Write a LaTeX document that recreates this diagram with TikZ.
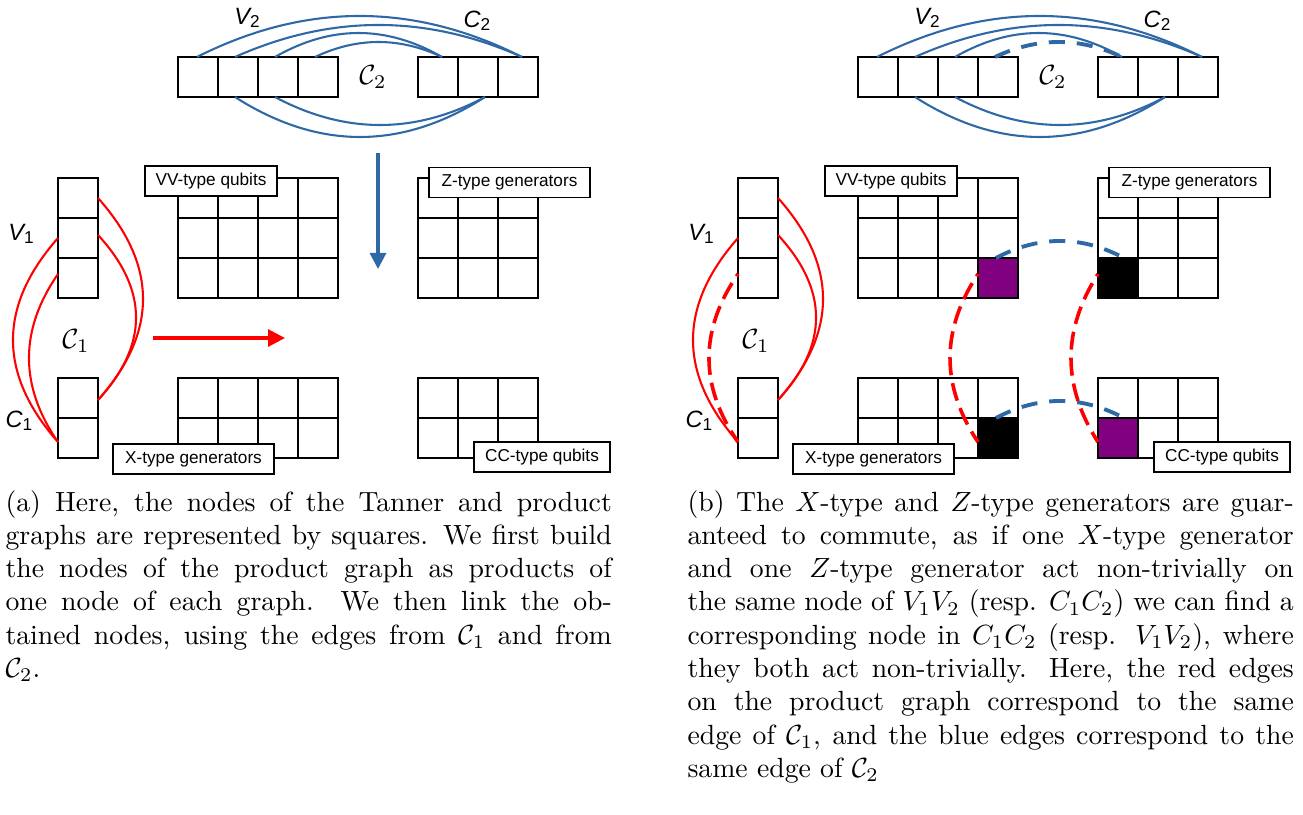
\documentclass[tikz,border=0pt]{standalone}
\usepackage{fontspec}
\newfontfamily\labelfont{Liberation Sans}
\usetikzlibrary{arrows.meta,calc}

\definecolor{edgeblue}{RGB}{47,104,166}
\definecolor{edgered}{RGB}{255,0,0}
\definecolor{nodepurple}{RGB}{128,0,128}

% graph name with an upright subscript, e.g. V_1
\newcommand\setlab[2]{{\labelfont\fontsize{8.5}{9}\selectfont\itshape #1}\raisebox{-1.2pt}{\labelfont\fontsize{6.2}{7}\selectfont #2}}
% code name, e.g. \mathcal{C}_1
\newcommand\calab[2]{{\fontsize{9.6}{10}\selectfont$\mathcal{#1}_{#2}$}}

\tikzset{
  cell/.style={draw=black, line width=0.8pt, minimum size=14.42pt, inner sep=0pt, outer sep=0pt},
  tag/.style={draw=black, fill=white, line width=0.5pt, minimum height=10.8pt, inner sep=0pt,
              font=\labelfont\fontsize{6.2}{7}\selectfont},
  blueline/.style={draw=edgeblue, line width=0.75pt},
  redline/.style={draw=edgered, line width=0.75pt},
  bluedash/.style={draw=edgeblue, line width=1.4pt, dash pattern=on 5.8pt off 4.3pt},
  reddash/.style={draw=edgered, line width=1.3pt, dash pattern=on 6.5pt off 2.9pt, dash phase=5.5pt},
  glabel/.style={inner sep=0pt, anchor=center},
  caption/.style={anchor=base west, inner sep=0pt, text width=218.5pt, align=justify,
                  font=\fontsize{10}{12}\selectfont},
}

% #1 name prefix, #2 horizontal offset, #3 style of the edge t4--s1, #4 style of the edge v3--c2
\newcommand\drawpanel[4]{%
  % Tanner graph of C2
  \foreach \col in {1,...,4} \node[cell] (#1-t-\col) at ({#2+158+40*\col},77) {};
  \foreach \col in {1,...,3} \node[cell] (#1-s-\col) at ({#2+398+40*\col},77) {};
  % Tanner graph of C1
  \foreach \row in {1,...,3} \node[cell] (#1-v-\row) at ({#2+78},{158+40*\row}) {};
  \foreach \row in {1,2} \node[cell] (#1-c-\row) at ({#2+78},{358+40*\row}) {};
  % product graph
  \foreach \row in {1,...,3} \foreach \col in {1,...,4}
    \node[cell] (#1-vv-\row-\col) at ({#2+158+40*\col},{158+40*\row}) {};
  \foreach \row in {1,...,3} \foreach \col in {1,...,3}
    \node[cell] (#1-z-\row-\col) at ({#2+398+40*\col},{158+40*\row}) {};
  \foreach \row in {1,2} \foreach \col in {1,...,4}
    \node[cell] (#1-x-\row-\col) at ({#2+158+40*\col},{358+40*\row}) {};
  \foreach \row in {1,2} \foreach \col in {1,...,3}
    \node[cell] (#1-cc-\row-\col) at ({#2+398+40*\col},{358+40*\row}) {};
  % block names
  \node[tag, minimum width=47.6pt] (#1-vvtag) at ({#2+211},181) {VV-type qubits};
  \node[tag, minimum width=58pt]   (#1-ztag)  at ({#2+509.5},182.5) {Z-type generators};
  \node[tag, minimum width=58pt]   (#1-xtag)  at ({#2+193.5},459) {X-type generators};
  \node[tag, minimum width=49pt]   (#1-cctag) at ({#2+542},457) {CC-type qubits};
  % edges of C2
  \draw[blueline] ($(#1-t-1.north)+(-1,0)$) .. controls +(108.3,-54.7) and +(-108.3,-54.7) .. ($(#1-s-3.north)+(4,0)$);
  \draw[blueline] ($(#1-t-2.north)+(-3,0)$) .. controls +(95.7,-42.7) and +(-95.7,-42.7) .. ($(#1-s-3.north)+(4,0)$);
  \draw[blueline] ($(#1-t-3.north)+(-3,0)$) .. controls +(55.7,-32) and +(-55.7,-32) .. ($(#1-s-1.north)+(4,0)$);
  \draw[#3] ($(#1-t-4.north)+(-3,0)$) .. controls +(42.3,-20) and +(-42.3,-20) .. ($(#1-s-1.north)+(4,0)$);
  \draw[blueline] ($(#1-t-2.south)+(-3,0)$) .. controls +(83.3,53.3) and +(-83.3,53.3) .. ($(#1-s-2.south)+(7,0)$);
  \draw[blueline] ($(#1-t-3.south)+(-3,0)$) .. controls +(70,37.3) and +(-70,37.3) .. ($(#1-s-2.south)+(7,0)$);
  % edges of C1
  \draw[redline] (#1-v-1.east) .. controls +(60,67.3) and +(60,-67.3) .. ($(#1-c-1.east)+(0,2)$);
  \draw[redline] ($(#1-v-2.east)+(0,-3)$) .. controls +(50.7,55) and +(50.7,-55) .. ($(#1-c-1.east)+(0,2)$);
  \draw[redline] (#1-v-2.west) .. controls +(-60,68) and +(-60,-68) .. ($(#1-c-2.west)+(0,4)$);
  \draw[#4] ($(#1-v-3.west)+(0,-4)$) .. controls +(-38.7,56) and +(-38.7,-56) .. ($(#1-c-2.west)+(0,4)$);
  % graph names
  \node[glabel] (#1-lv2) at ({#2+247},18) {\setlab{V}{2}};
  \node[glabel] (#1-lc2) at ({#2+477},21) {\setlab{C}{2}};
  \node[glabel] (#1-cal2) at ({#2+373},77) {\calab{C}{2}};
  \node[glabel] (#1-lv1) at ({#2+21},234) {\setlab{V}{1}};
  \node[glabel] (#1-lc1) at ({#2+19},421) {\setlab{C}{1}};
  \node[glabel] (#1-cal1) at ({#2+76},341) {\calab{C}{1}};
}

% one marked product node
\newcommand\markcell[2]{%
  \fill[#2] (#1.south west) rectangle (#1.north east);
  \draw[line width=0.8pt] (#1.south west) rectangle (#1.north east);
}

\begin{document}
\begin{tikzpicture}[x=0.3604pt, y=-0.3604pt]
\useasboundingbox (0,0) rectangle (1303,814);

% ---------- (a) building the product graph ----------
\drawpanel{a}{0}{blueline}{redline}
\coordinate (downA) at (378,153);
\coordinate (downB) at (378,269);
\draw[edgeblue, line width=1.1pt, -{Triangle[length=5.8pt,width=5.8pt]}] (downA) -- (downB);
\coordinate (rightA) at (153,338);
\coordinate (rightB) at (285,338);
\draw[edgered, line width=1.1pt, -{Triangle[length=6.1pt,width=6.1pt]}] (rightA) -- (rightB);

% ---------- (b) commuting generators ----------
\drawpanel{b}{680}{bluedash}{reddash}
\markcell{b-vv-3-4}{nodepurple}
\markcell{b-z-3-1}{black}
\markcell{b-x-2-4}{black}
\markcell{b-cc-2-1}{nodepurple}
\draw[bluedash] ($(b-vv-3-4.north)+(-2,0)$) .. controls +(42.7,-22.7) and +(-42.7,-22.7) .. ($(b-z-3-1.north)+(6,0)$);
\draw[bluedash] ($(b-x-2-4.north)+(-2,0)$) .. controls +(42.7,-22.7) and +(-42.7,-22.7) .. ($(b-cc-2-1.north)+(6,0)$);
\draw[reddash] ($(b-vv-3-4.west)+(0,-4)$) .. controls +(-37.3,56) and +(-37.3,-56) .. ($(b-x-2-4.west)+(0,4)$);
\draw[reddash] ($(b-z-3-1.west)+(0,-4)$) .. controls +(-36,56) and +(-36,-56) .. ($(b-cc-2-1.west)+(0,4)$);

% ---------- captions ----------
\node[caption] (capa) at (5,511) {(a) Here, the nodes of the Tanner and product\linebreak
graphs are represented by squares. We first build\linebreak
the nodes of the product graph as products of\linebreak
one node of each graph. We then link the ob-\linebreak
tained nodes, using the edges from $\mathcal{C}_1$ and from\linebreak
$\mathcal{C}_2$.};
\node[caption] (capb) at (687,511) {(b) The $X$-type and $Z$-type generators are guar-\linebreak
anteed to commute, as if one $X$-type generator\linebreak
and one $Z$-type generator act non-trivially on\linebreak
the same node of $V_1V_2$ (resp. $C_1C_2$) we can find a\linebreak
corresponding node in $C_1C_2$ (resp. $V_1V_2$), where\linebreak
they both act non-trivially. Here, the red edges\linebreak
on the product graph correspond to the same\linebreak
edge of $\mathcal{C}_1$, and the blue edges correspond to the\linebreak
same edge of $\mathcal{C}_2$};
\end{tikzpicture}
\end{document}
